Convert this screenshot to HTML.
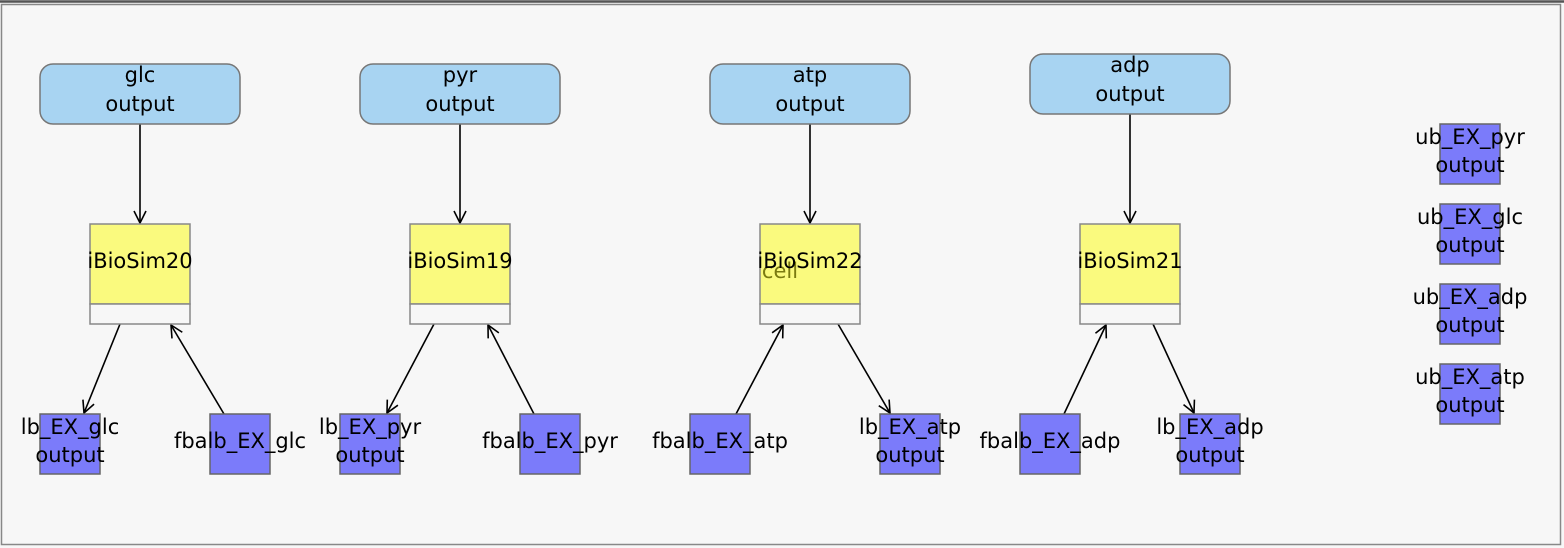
<!DOCTYPE html>
<html><head><meta charset="utf-8"><style>
html,body{margin:0;padding:0;background:#fff;}
svg{display:block;}
text{font-family:"DejaVu Sans","Liberation Sans",sans-serif;font-size:21px;fill:#000;text-anchor:middle;}
</style></head><body>
<svg width="1564" height="548" viewBox="0 0 1564 548" xmlns="http://www.w3.org/2000/svg">
<defs>
<marker id="a" markerWidth="16" markerHeight="16" refX="13" refY="7" orient="auto" markerUnits="userSpaceOnUse">
<path d="M1,1 L13,7 L1,13" fill="none" stroke="#000" stroke-width="1.6"/>
</marker>
</defs>
<rect x="0" y="0" width="1564" height="548" fill="#f7f7f7"/>
<line x1="0" y1="1.5" x2="1564" y2="1.5" stroke="#555" stroke-width="2.5"/>
<rect x="1.5" y="4.5" width="1559" height="540" fill="none" stroke="#888" stroke-width="1.5"/>

<g stroke="#000" stroke-width="1.6" fill="none" marker-end="url(#a)">
<line x1="140" y1="124" x2="140" y2="223"/>
<line x1="460" y1="124" x2="460" y2="223"/>
<line x1="810" y1="124" x2="810" y2="223"/>
<line x1="1130" y1="114" x2="1130" y2="223"/>
<line x1="120" y1="324" x2="84" y2="413"/>
<line x1="224" y1="414" x2="171" y2="325"/>
<line x1="434" y1="324" x2="387" y2="413"/>
<line x1="534" y1="414" x2="488" y2="325"/>
<line x1="736" y1="414" x2="783" y2="325"/>
<line x1="838" y1="324" x2="890" y2="413"/>
<line x1="1064" y1="414" x2="1106" y2="325"/>
<line x1="1153" y1="324" x2="1194" y2="413"/>
</g>

<g fill="#a8d4f2" stroke="#777" stroke-width="1.5">
<rect x="40" y="64" width="200" height="60" rx="13"/>
<rect x="360" y="64" width="200" height="60" rx="13"/>
<rect x="710" y="64" width="200" height="60" rx="13"/>
<rect x="1030" y="54" width="200" height="60" rx="13"/>
</g>
<g stroke="#888" stroke-width="1.5">
<rect x="90" y="224" width="100" height="80" fill="#fafa7e"/><rect x="90" y="304" width="100" height="20" fill="#f7f7f7"/>
<rect x="410" y="224" width="100" height="80" fill="#fafa7e"/><rect x="410" y="304" width="100" height="20" fill="#f7f7f7"/>
<rect x="760" y="224" width="100" height="80" fill="#fafa7e"/><rect x="760" y="304" width="100" height="20" fill="#f7f7f7"/>
<rect x="1080" y="224" width="100" height="80" fill="#fafa7e"/><rect x="1080" y="304" width="100" height="20" fill="#f7f7f7"/>
</g>
<g fill="#7b7bfa" stroke="#666" stroke-width="1.5">
<rect x="40" y="414" width="60" height="60"/>
<rect x="210" y="414" width="60" height="60"/>
<rect x="340" y="414" width="60" height="60"/>
<rect x="520" y="414" width="60" height="60"/>
<rect x="690" y="414" width="60" height="60"/>
<rect x="880" y="414" width="60" height="60"/>
<rect x="1020" y="414" width="60" height="60"/>
<rect x="1180" y="414" width="60" height="60"/>
<rect x="1440" y="124" width="60" height="60"/>
<rect x="1440" y="204" width="60" height="60"/>
<rect x="1440" y="284" width="60" height="60"/>
<rect x="1440" y="364" width="60" height="60"/>
</g>

<text x="140" y="82">glc</text><text x="140" y="111">output</text>
<text x="460" y="82">pyr</text><text x="460" y="111">output</text>
<text x="810" y="82">atp</text><text x="810" y="111">output</text>
<text x="1130" y="72">adp</text><text x="1130" y="101">output</text>

<text x="780" y="278" style="fill:#7a7a10">cell</text>
<text x="140" y="268">iBioSim20</text>
<text x="460" y="268">iBioSim19</text>
<text x="810" y="268">iBioSim22</text>
<text x="1130" y="268">iBioSim21</text>

<text x="70" y="434">lb_EX_glc</text><text x="70" y="462">output</text>
<text x="240" y="448">fbalb_EX_glc</text>
<text x="370" y="434">lb_EX_pyr</text><text x="370" y="462">output</text>
<text x="550" y="448">fbalb_EX_pyr</text>
<text x="720" y="448">fbalb_EX_atp</text>
<text x="910" y="434">lb_EX_atp</text><text x="910" y="462">output</text>
<text x="1050" y="448">fbalb_EX_adp</text>
<text x="1210" y="434">lb_EX_adp</text><text x="1210" y="462">output</text>

<text x="1470" y="144">ub_EX_pyr</text><text x="1470" y="172">output</text>
<text x="1470" y="224">ub_EX_glc</text><text x="1470" y="252">output</text>
<text x="1470" y="304">ub_EX_adp</text><text x="1470" y="332">output</text>
<text x="1470" y="384">ub_EX_atp</text><text x="1470" y="412">output</text>
</svg>
</body></html>
